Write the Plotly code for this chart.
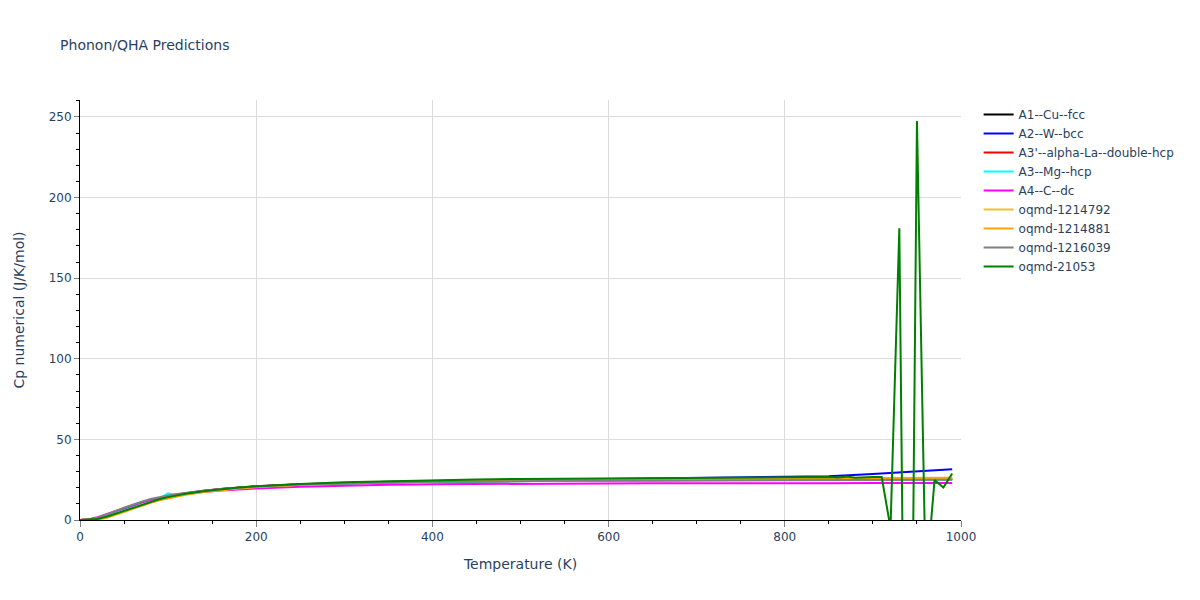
import plotly.graph_objects as go

temps = [0, 10, 20, 30, 40, 50, 60, 70, 80, 90, 100, 110, 120, 140, 160, 180, 200,
         250, 300, 350, 400, 450, 500, 550, 600, 650, 700, 750, 800, 850, 900, 950, 990]

cu_fcc = [0, 0.2, 1.0, 2.6, 4.6, 6.6, 8.6, 10.4, 12.0, 13.4, 14.6, 15.6, 16.5, 18.0, 19.2, 20.1, 20.8,
          22.0, 22.8, 23.3, 23.7, 24.0, 24.2, 24.4, 24.6, 24.7, 24.8, 24.9, 25.0, 25.1, 25.2, 25.3, 25.4]
w_bcc = [0, 0.2, 0.9, 2.4, 4.3, 6.3, 8.3, 10.1, 11.8, 13.2, 14.4, 15.5, 16.4, 17.9, 19.1, 20.0, 20.8,
         22.2, 23.1, 23.7, 24.2, 24.6, 24.9, 25.2, 25.5, 25.7, 26.0, 26.2, 26.6, 27.2, 28.5, 29.9, 31.4]
la_dhcp = [0, 0.3, 1.2, 3.0, 5.2, 7.3, 9.2, 10.9, 12.4, 13.7, 14.8, 15.8, 16.7, 18.1, 19.3, 20.2, 20.9,
           22.2, 23.0, 23.5, 23.9, 24.2, 24.4, 24.6, 24.7, 24.8, 24.9, 25.0, 25.0, 25.1, 25.2, 25.3, 25.3]
mg_hcp = [0, 0.2, 0.8, 2.3, 4.2, 6.2, 8.2, 10.0, 11.6, 13.2, 16.5, 15.5, 16.4, 17.9, 19.1, 20.0, 20.7,
          22.0, 22.8, 23.3, 23.7, 24.0, 24.2, 24.3, 24.4, 24.5, 24.5, 24.6, 24.6, 24.7, 24.7, 24.8, 24.8]
c_dc = [0, 0.5, 1.8, 3.6, 5.6, 7.6, 9.4, 11.0, 12.4, 13.6, 14.6, 15.4, 16.1, 17.3, 18.3, 19.0, 19.6,
        20.7, 21.4, 21.9, 22.2, 22.4, 22.5, 22.6, 22.7, 22.8, 22.8, 22.7, 22.9, 22.8, 22.9, 22.9, 23.0]
oqmd_1214792 = [0, 0.05, 0.4, 1.6, 3.4, 5.4, 7.4, 9.3, 11.0, 12.5, 13.8, 14.9, 15.9, 17.5, 18.8, 19.8, 20.6,
                22.0, 23.0, 23.7, 24.2, 24.6, 24.9, 25.1, 25.3, 25.4, 25.5, 25.6, 25.7, 25.7, 25.8, 25.8, 25.9]
oqmd_1214881 = [0, 0.05, 0.3, 1.3, 3.0, 5.0, 7.0, 8.9, 10.7, 12.2, 13.5, 14.7, 15.7, 17.3, 18.6, 19.6, 20.4,
                21.9, 22.9, 23.6, 24.2, 24.6, 24.9, 25.2, 25.4, 25.5, 25.6, 25.7, 25.8, 25.9, 26.0, 26.1, 26.2]
oqmd_1216039 = [0, 0.3, 1.3, 3.2, 5.4, 7.6, 9.6, 11.4, 13.0, 14.2, 15.2, 16.1, 16.9, 18.2, 19.3, 20.1, 20.8,
                22.0, 22.8, 23.3, 23.7, 24.0, 24.2, 24.3, 24.4, 24.5, 24.6, 24.6, 24.7, 24.7, 24.8, 24.8, 24.9]

temps_21053 = [0, 10, 20, 30, 40, 50, 60, 70, 80, 90, 100, 110, 120, 140, 160, 180, 200,
               250, 300, 350, 400, 450, 500, 550, 600, 650, 700, 750, 800, 850,
               860, 870, 880, 890, 900, 910, 920, 930, 940, 950, 960, 970, 980, 990]
oqmd_21053 = [0, 0.1, 0.6, 2.0, 3.8, 5.8, 7.8, 9.7, 11.4, 12.9, 14.2, 15.3, 16.3, 17.9, 19.1, 20.1, 20.9,
              22.4, 23.4, 24.1, 24.7, 25.1, 25.5, 25.7, 26.0, 26.1, 26.3, 26.4, 26.5, 26.6,
              26.4, 26.9, 26.2, 26.5, 26.6, 26.6, -5, 181, -350, 247.5, -40, 24.8, 20.2, 28.8]

series = [
    ("A1--Cu--fcc", temps, cu_fcc, "black"),
    ("A2--W--bcc", temps, w_bcc, "blue"),
    ("A3'--alpha-La--double-hcp", temps, la_dhcp, "red"),
    ("A3--Mg--hcp", temps, mg_hcp, "cyan"),
    ("A4--C--dc", temps, c_dc, "magenta"),
    ("oqmd-1214792", temps, oqmd_1214792, "rgb(235,193,50)"),
    ("oqmd-1214881", temps, oqmd_1214881, "orange"),
    ("oqmd-1216039", temps, oqmd_1216039, "gray"),
    ("oqmd-21053", temps_21053, oqmd_21053, "green"),
]

fig = go.Figure()
for name, x, y, color in series:
    fig.add_trace(go.Scatter(x=x, y=y, mode="lines", name=name,
                             line=dict(color=color, width=2)))

fig.update_layout(
    title=dict(text="Phonon/QHA Predictions", font=dict(size=14),
               x=0.044, xanchor="left", y=0.9366, yanchor="middle"),
    font=dict(family="DejaVu Sans, Verdana, sans-serif"),
    plot_bgcolor="white",
    paper_bgcolor="white",
    margin=dict(l=72, r=78, t=92, b=72),
)
fig.update_xaxes(
    title_text="Temperature (K)", range=[0, 1000],
    showline=True, linecolor="black", linewidth=1,
    showgrid=True, gridcolor="#dcdcdc", zeroline=False,
    ticks="outside", ticklen=6, tickcolor="gray", dtick=200,
    minor=dict(ticks="outside", ticklen=3, tickcolor="black", dtick=50, showgrid=False),
)
fig.update_yaxes(
    title_text="Cp numerical (J/K/mol)", title_standoff=20, range=[0, 260.5],
    showline=True, linecolor="black", linewidth=1,
    showgrid=True, gridcolor="#dcdcdc", zeroline=False,
    ticks="outside", ticklen=5, tickcolor="gray", dtick=50,
    minor=dict(ticks="outside", ticklen=3, tickcolor="black", dtick=10, showgrid=False),
)

fig.write_html("out.html")
